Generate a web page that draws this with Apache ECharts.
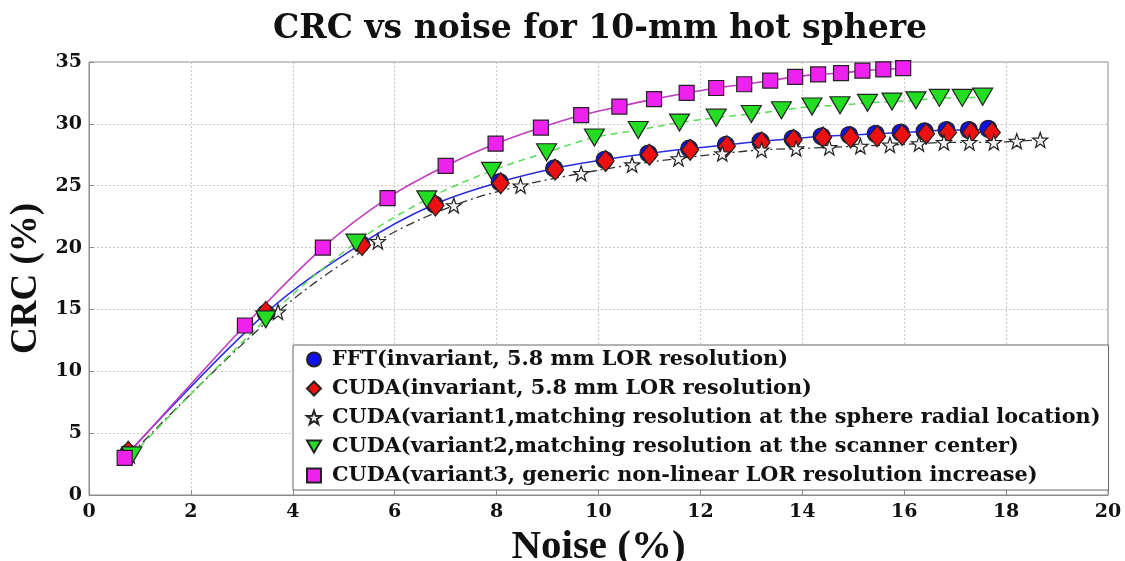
<!DOCTYPE html>
<html>
<head>
<meta charset="utf-8">
<script src="https://cdn.jsdelivr.net/npm/echarts@6/dist/echarts.min.js"></script>
<style>html,body{margin:0;padding:0;background:#fff;}#c{width:1125px;height:561px;}</style>
</head>
<body>
<div id="c"></div>
<script>
const titleText = 'CRC vs noise for 10-mm hot sphere';
const xName = 'Noise (%)';
const yName = 'CRC (%)';
const seriesNames = [
  'FFT(invariant, 5.8 mm LOR resolution)',
  'CUDA(invariant, 5.8 mm LOR resolution)',
  'CUDA(variant1,matching resolution at the sphere radial location)',
  'CUDA(variant2,matching resolution at the scanner center)',
  'CUDA(variant3, generic non-linear LOR resolution increase)'
];
const fftData = [[0.77,3.4],[3.47,14.7],[5.34,20.3],[6.78,23.5],[8.06,25.3],[9.13,26.4],[10.12,27.1],[10.98,27.6],[11.78,28.0],[12.5,28.3],[13.18,28.6],[13.81,28.8],[14.38,29.0],[14.92,29.1],[15.44,29.2],[15.93,29.3],[16.4,29.4],[16.83,29.5],[17.27,29.5],[17.65,29.6]];
const cudaInvData = [[0.77,3.5],[3.47,14.8],[5.36,20.2],[6.8,23.4],[8.08,25.2],[9.15,26.3],[10.14,27.0],[11.0,27.5],[11.8,27.9],[12.52,28.2],[13.2,28.5],[13.83,28.7],[14.41,28.9],[14.95,28.9],[15.47,29.0],[15.96,29.1],[16.43,29.2],[16.86,29.3],[17.31,29.3],[17.72,29.3]];
const variant1Data = [[0.8,3.2],[3.71,14.8],[5.67,20.5],[7.16,23.4],[8.47,25.0],[9.66,26.0],[10.66,26.7],[11.57,27.2],[12.43,27.6],[13.2,27.9],[13.88,28.0],[14.53,28.1],[15.14,28.2],[15.72,28.3],[16.29,28.4],[16.78,28.5],[17.28,28.5],[17.76,28.5],[18.21,28.6],[18.67,28.7]];
const variant2Data = [[0.84,3.2],[3.47,14.2],[5.24,20.4],[6.63,23.9],[7.9,26.2],[8.98,27.7],[9.92,28.9],[10.78,29.5],[11.59,30.1],[12.31,30.5],[13.0,30.8],[13.59,31.1],[14.19,31.4],[14.74,31.5],[15.28,31.7],[15.76,31.8],[16.23,31.9],[16.69,32.1],[17.14,32.1],[17.54,32.2]];
const variant3Data = [[0.7,3.0],[3.06,13.7],[4.59,20.0],[5.86,24.0],[7.0,26.6],[7.98,28.4],[8.87,29.7],[9.66,30.7],[10.41,31.4],[11.09,32.0],[11.73,32.5],[12.31,32.9],[12.86,33.2],[13.37,33.5],[13.86,33.8],[14.31,34.0],[14.76,34.1],[15.18,34.3],[15.59,34.4],[15.98,34.5]];
const xTicks = [0,2,4,6,8,10,12,14,16,18,20];
const yTicks = [0,5,10,15,20,25,30,35];

const SERIF = '"Liberation Serif", "DejaVu Serif", serif';
const WIDE_SERIF = '"DejaVu Serif", "Liberation Serif", serif';
const STAR = 'path://M0,-10 L2.35,-3.24 L9.51,-3.09 L3.8,1.24 L5.88,8.09 L0,4 L-5.88,8.09 L-3.8,1.24 L-9.51,-3.09 L-2.35,-3.24 Z';
const TRI_DOWN = 'path://M0,0 L20,0 L10,17 Z';

const chart = echarts.init(document.getElementById('c'), null, {renderer: 'canvas'});
const gridLine = {show: true, lineStyle: {color: '#c8c8c8', type: [2, 2], width: 1}};
const tickLbl = {color: '#111', fontFamily: WIDE_SERIF, fontWeight: 'bold', fontSize: 19};

function mk(name, data, symbol, size, fill, lineColor, lineType, lineWidth, lineOpacity) {
  return {
    name: name, type: 'line', data: data, smooth: 0.35,
    symbol: symbol, symbolSize: size, showSymbol: true,
    itemStyle: {color: fill, borderColor: '#222', borderWidth: 1.2},
    lineStyle: {color: lineColor, type: lineType, width: lineWidth, opacity: lineOpacity},
    emphasis: {disabled: true}, animation: false
  };
}

chart.setOption({
  backgroundColor: '#fff',
  animation: false,
  title: {
    text: titleText, left: 268, top: 8,
    textStyle: {fontFamily: WIDE_SERIF, fontWeight: 'bold', fontSize: 33, color: '#111'}
  },
  grid: {left: 89, right: 17, top: 62, bottom: 66, show: true, borderColor: '#8a8a8a', borderWidth: 1,
         containLabel: false, outerBoundsMode: 'none'},
  xAxis: {
    type: 'value', min: xTicks[0], max: xTicks[xTicks.length - 1], interval: 2,
    name: xName, nameLocation: 'middle', nameGap: 20,
    nameTextStyle: {fontFamily: SERIF, fontWeight: 'bold', fontSize: 41, color: '#111'},
    axisLine: {show: true, lineStyle: {color: '#8a8a8a'}},
    axisTick: {show: true, inside: true, length: 5, lineStyle: {color: '#8a8a8a'}},
    axisLabel: Object.assign({margin: 8}, tickLbl),
    splitLine: gridLine
  },
  yAxis: {
    type: 'value', min: yTicks[0], max: yTicks[yTicks.length - 1], interval: 5,
    name: yName, nameLocation: 'middle', nameGap: 12, nameRotate: 90,
    nameTextStyle: {fontFamily: SERIF, fontWeight: 'bold', fontSize: 37, color: '#111'},
    axisLine: {show: true, lineStyle: {color: '#8a8a8a'}},
    axisTick: {show: true, inside: true, length: 5, lineStyle: {color: '#8a8a8a'}},
    axisLabel: Object.assign({margin: 7}, tickLbl),
    splitLine: gridLine
  },
  legend: {
    orient: 'vertical', left: 293, top: 345,
    backgroundColor: '#fff', borderColor: '#666', borderWidth: 1,
    padding: [4, 8, 4, 13], itemGap: 8, itemWidth: 14, itemHeight: 14,
    textStyle: {fontFamily: WIDE_SERIF, fontWeight: 'bold', fontSize: 20.8, color: '#111', lineHeight: 21, padding: [0, 0, 0, 6]},
    data: [
      {name: seriesNames[0], icon: 'circle'},
      {name: seriesNames[1], icon: 'diamond'},
      {name: seriesNames[2], icon: STAR},
      {name: seriesNames[3], icon: TRI_DOWN},
      {name: seriesNames[4], icon: 'rect'}
    ]
  },
  series: [
    mk(seriesNames[0], fftData, 'circle', 17, '#1010ee', '#2a2ae0', 'solid', 1.5, 1),
    mk(seriesNames[1], cudaInvData, 'diamond', [17, 21], '#ee1010', '#cc2222', 'solid', 1, 0),
    mk(seriesNames[2], variant1Data, STAR, 15, '#f4f4f4', '#333', [9, 4, 2, 4], 1.3, 1),
    mk(seriesNames[3], variant2Data, TRI_DOWN, [20, 17], '#22dd22', '#55dd55', [7, 5], 1.5, 1),
    mk(seriesNames[4], variant3Data, 'rect', 15, '#ee22ee', '#c03cc0', 'solid', 1.6, 1)
  ]
});
</script>
</body>
</html>
